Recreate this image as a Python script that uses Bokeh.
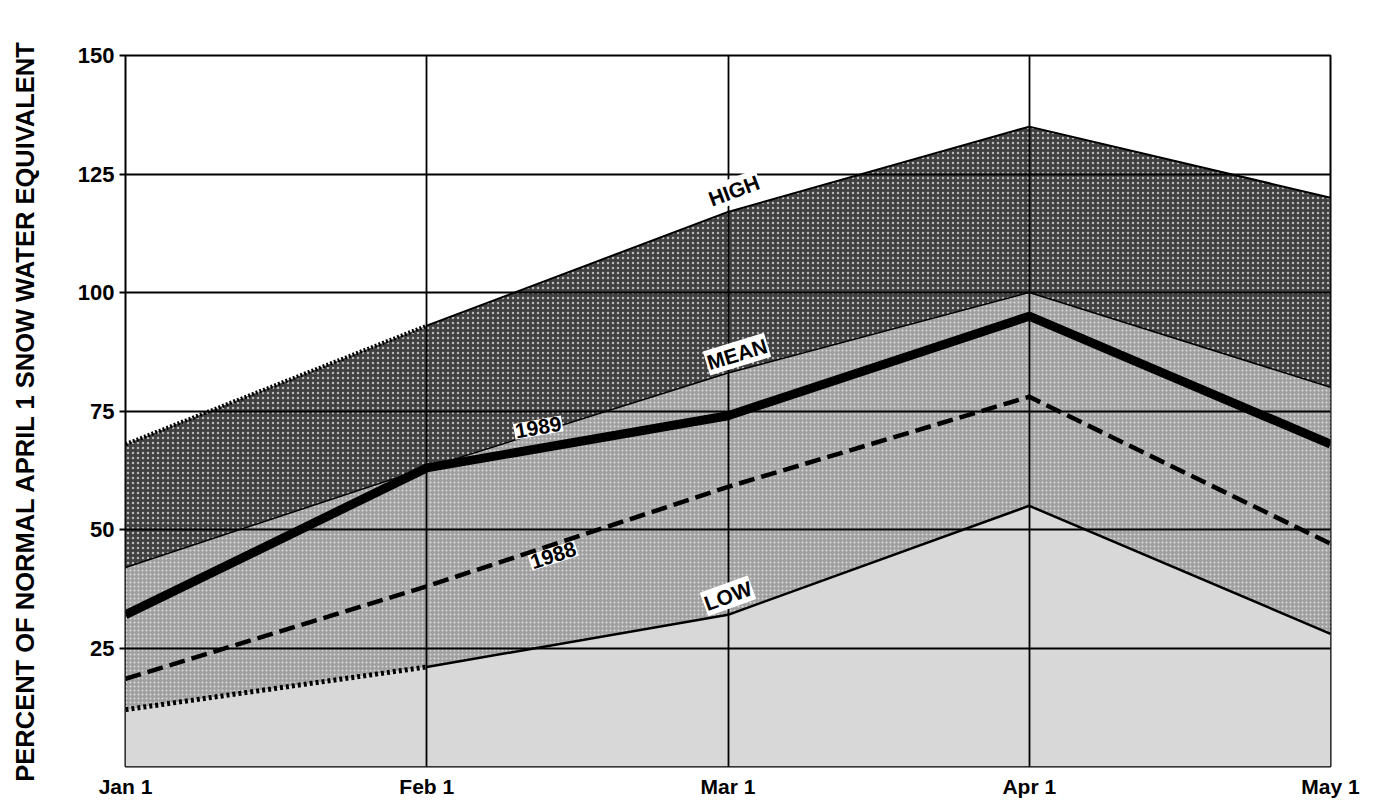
from bokeh.plotting import figure
from bokeh.models import Range1d, FixedTicker, Label
from bokeh.embed import file_html
from bokeh.resources import INLINE
import math

# ---- data ----
months = ["Jan 1", "Feb 1", "Mar 1", "Apr 1", "May 1"]
x_pos = [0, 1, 2, 3, 4]
high = [68, 93, 117, 135, 120]
mean = [42, 63, 83, 100, 80]
yr1989 = [32, 63, 74, 95, 68]
yr1988 = [18.5, 38, 59, 78, 47]
low = [12, 21, 32, 55, 28]
zero = [0, 0, 0, 0, 0]
y_ticks = [25, 50, 75, 100, 125, 150]

FONT = "Liberation Sans"

p = figure(width=1365, height=800, output_backend="svg", toolbar_location=None,
           x_range=Range1d(0, 4), y_range=Range1d(0, 150),
           min_border_left=125, min_border_top=55, min_border_right=35, min_border_bottom=32)

# bands
p.varea(x=x_pos, y1=mean, y2=high, fill_color="#404040",
        hatch_pattern="dot", hatch_color="#b8b8b8", hatch_scale=5, hatch_weight=1.2)
p.varea(x=x_pos, y1=low, y2=mean, fill_color="#a0a0a0",
        hatch_pattern="dot", hatch_color="#dcdcdc", hatch_scale=4, hatch_weight=1)
p.varea(x=x_pos, y1=zero, y2=low, fill_color="#d8d8d8")

# lines
p.line(x_pos[:2], high[:2], line_color="black", line_width=4, line_dash="2 2")
p.line(x_pos[1:], high[1:], line_color="black", line_width=2)
p.line(x_pos, mean, line_color="black", line_width=1.5)
p.line(x_pos, yr1989, line_color="black", line_width=9)
p.line(x_pos, yr1988, line_color="black", line_width=4.5, line_dash="16 7")
p.line(x_pos[:2], low[:2], line_color="black", line_width=5, line_dash="3 3")
p.line(x_pos[1:], low[1:], line_color="black", line_width=2.5)

# grid
for g in (p.xgrid, p.ygrid):
    g.grid_line_color = "black"
    g.grid_line_width = 1.8
    g.level = "guide"
p.xgrid.ticker = FixedTicker(ticks=x_pos)
p.ygrid.ticker = FixedTicker(ticks=y_ticks)

p.outline_line_color = "black"
p.outline_line_width = 2

# axes
p.xaxis.ticker = FixedTicker(ticks=x_pos)
p.xaxis.major_label_overrides = {i: m for i, m in zip(x_pos, months)}
p.yaxis.ticker = FixedTicker(ticks=y_ticks)
for ax in (p.xaxis[0], p.yaxis[0]):
    ax.axis_line_color = None
    ax.major_tick_in = 0
    ax.minor_tick_line_color = None
    ax.major_label_text_font = FONT
    ax.major_label_text_font_style = "bold"
    ax.major_label_text_font_size = "21px"
    ax.major_label_text_color = "black"
p.yaxis.major_label_text_font_size = "22px"
p.xaxis.major_tick_line_color = None
p.xaxis.major_tick_out = 0
p.xaxis.major_label_standoff = 8
p.yaxis.major_tick_out = 6
p.yaxis.major_tick_line_width = 1.8
p.yaxis.major_tick_line_color = "black"
p.yaxis.major_label_standoff = 5
p.yaxis.axis_label = "PERCENT OF NORMAL APRIL 1 SNOW WATER EQUIVALENT"
p.yaxis.axis_label_text_font = FONT
p.yaxis.axis_label_text_font_style = "bold"
p.yaxis.axis_label_text_font_size = "25.5px"
p.yaxis.axis_label_text_color = "black"
p.yaxis.axis_label_standoff = 36

# series labels
labels = [("HIGH", 2.02, 121.5, 20.5), ("MEAN", 2.03, 87.0, 17.0),
          ("1989", 1.37, 71.5, 10.0), ("1988", 1.42, 44.5, 18.0),
          ("LOW", 2.0, 36.0, 20.0)]
for txt, lx, ly, ang in labels:
    p.add_layout(Label(x=lx, y=ly, text=txt, angle=math.radians(ang),
                       text_align="center", text_baseline="middle",
                       text_font=FONT, text_font_style="bold", text_font_size="21px",
                       text_color="black", background_fill_color="white",
                       padding=1))

open("out.html", "w").write(file_html(p, INLINE))
